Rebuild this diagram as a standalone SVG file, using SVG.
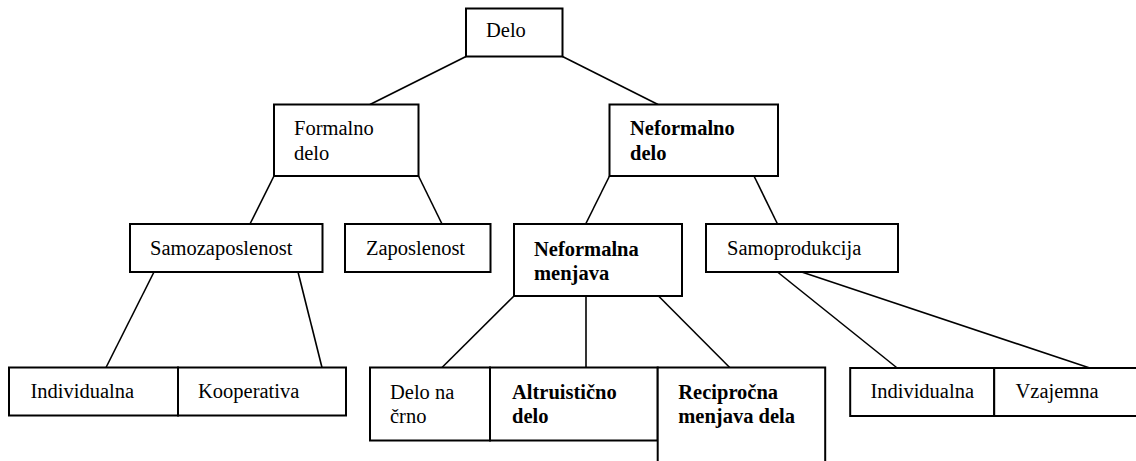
<svg xmlns="http://www.w3.org/2000/svg" width="1136" height="461" viewBox="0 0 1136 461">
<style>
.box{fill:#fff;stroke:#000;stroke-width:2}
.t{font-family:"Liberation Serif","Times New Roman",serif;font-size:20.5px;fill:#000}
.b{font-weight:bold}
.c line{stroke:#000;stroke-width:1.6}
</style>
<rect width="1136" height="461" fill="#fff"/>
<g class="c" id="connectors">
<line x1="466" y1="56.5" x2="370" y2="104.5"/>
<line x1="562.5" y1="56.5" x2="658" y2="104.5"/>
<line x1="274" y1="176" x2="250" y2="224"/>
<line x1="418.5" y1="176" x2="442" y2="224"/>
<line x1="609.5" y1="176" x2="585.7" y2="224"/>
<line x1="754" y1="176" x2="777.5" y2="224"/>
<line x1="154" y1="272" x2="106" y2="367.5"/>
<line x1="298" y1="272" x2="322" y2="367.5"/>
<line x1="514" y1="296" x2="442" y2="367.5"/>
<line x1="586" y1="296" x2="586" y2="367.5"/>
<line x1="658.5" y1="296" x2="729.7" y2="367.5"/>
<line x1="777.5" y1="272" x2="897.2" y2="368"/>
<line x1="801.7" y1="272" x2="1089.8" y2="368"/>
</g>
<g id="delo"><rect class="box" x="466" y="8.5" width="96.5" height="48"/><text class="t" x="486" y="37">Delo</text></g>
<g id="formalno"><rect class="box" x="274" y="104.5" width="144.5" height="71.5"/><text class="t" x="294" y="135">Formalno</text><text class="t" x="294" y="159.5">delo</text></g>
<g id="neformalno"><rect class="box" x="609.5" y="104.5" width="168.5" height="71.5"/><text class="t b" x="630" y="135">Neformalno</text><text class="t b" x="630" y="159.5">delo</text></g>
<g id="samozaposlenost"><rect class="box" x="130" y="224" width="192.5" height="48"/><text class="t" x="150" y="255">Samozaposlenost</text></g>
<g id="zaposlenost"><rect class="box" x="345" y="224" width="145.5" height="48"/><text class="t" x="366" y="255">Zaposlenost</text></g>
<g id="neformalna-menjava"><rect class="box" x="514" y="224" width="168" height="72"/><text class="t b" x="534" y="255.5">Neformalna</text><text class="t b" x="534" y="279.5">menjava</text></g>
<g id="samoprodukcija"><rect class="box" x="706" y="224" width="192" height="48"/><text class="t" x="727" y="255">Samoprodukcija</text></g>
<g id="individualna-1"><rect class="box" x="9" y="367.5" width="169" height="48"/><text class="t" x="30.5" y="398">Individualna</text></g>
<g id="kooperativa"><rect class="box" x="178" y="367.5" width="168" height="48"/><text class="t" x="198" y="398">Kooperativa</text></g>
<g id="delo-na-crno"><rect class="box" x="370" y="367.5" width="120" height="73"/><text class="t" x="390" y="398.5">Delo na</text><text class="t" x="390" y="423">črno</text></g>
<g id="altruisticno"><rect class="box" x="490" y="367.5" width="167.7" height="73"/><text class="t b" x="512" y="398.5">Altruistično</text><text class="t b" x="512" y="423">delo</text></g>
<g id="reciprocna"><rect class="box" x="657.7" y="367.5" width="167.5" height="100"/><text class="t b" x="678.3" y="399">Recipročna</text><text class="t b" x="678.3" y="423.3">menjava dela</text></g>
<g id="individualna-2"><rect class="box" x="850.2" y="368" width="144" height="48"/><text class="t" x="870.4" y="397.5">Individualna</text></g>
<g id="vzajemna"><rect class="box" x="994.2" y="368" width="150" height="48"/><text class="t" x="1015.5" y="397.5">Vzajemna</text></g>
</svg>
